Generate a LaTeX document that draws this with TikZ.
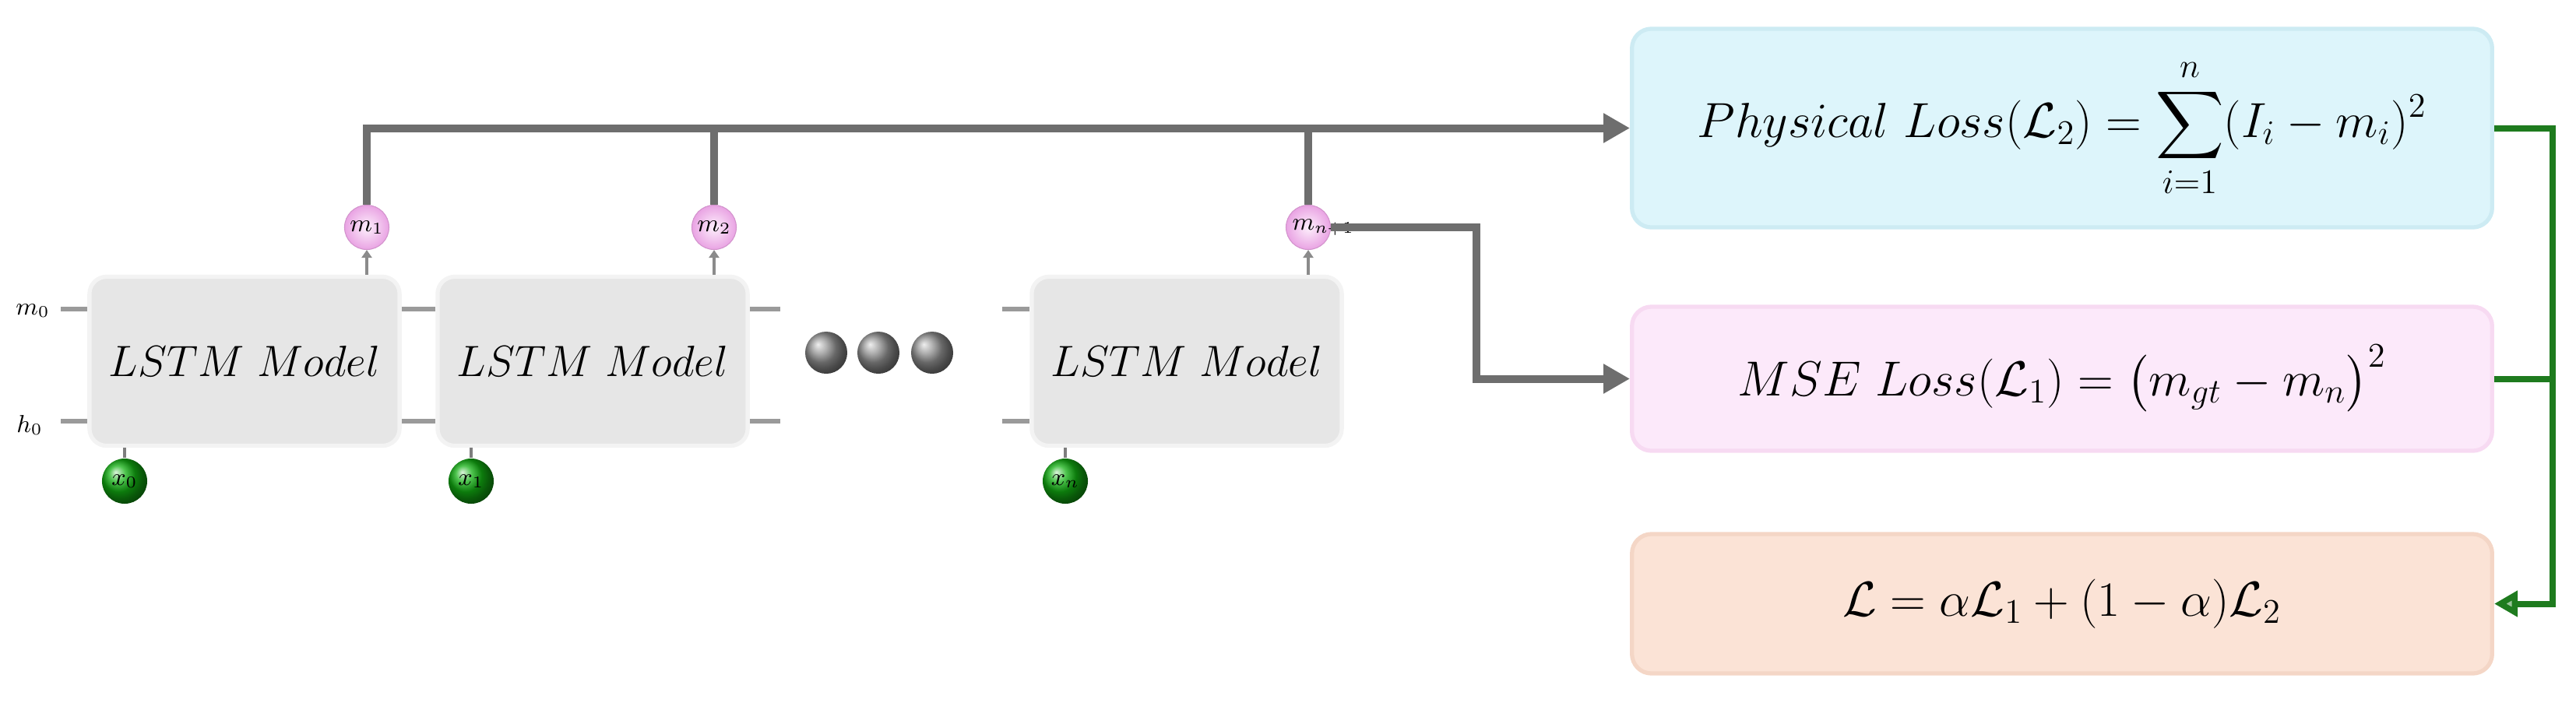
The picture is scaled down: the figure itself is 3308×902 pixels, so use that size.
\RequirePackage{fix-cm}
\documentclass[tikz,border=0pt]{standalone}
\usepackage{amsmath}
\usetikzlibrary{arrows.meta}
\definecolor{boxgray}{HTML}{E6E6E6}
\definecolor{lstmborder}{HTML}{F3F3F3}
\definecolor{busgray}{HTML}{6E6E6E}
\definecolor{stubgray}{HTML}{9A9A9A}
\definecolor{bluefill}{HTML}{DDF5FB}
\definecolor{blueborder}{HTML}{CDEBF3}
\definecolor{pinkfill}{HTML}{FCE9FA}
\definecolor{pinkborder}{HTML}{F7DAF2}
\definecolor{orangefill}{HTML}{FBE3D6}
\definecolor{orangeborder}{HTML}{F4D6C6}
\definecolor{ggreen}{HTML}{1E7B1E}
\definecolor{mpinkin}{HTML}{FDF0FC}
\definecolor{mpinkout}{HTML}{E9A3E3}
\definecolor{xgreen}{HTML}{12B012}
\begin{document}
\begin{tikzpicture}[x=0.01cm,y=-0.01cm,
  lstm/.style={draw=lstmborder, line width=1.5pt, fill=boxgray, rounded corners=0.22cm,
    minimum width=3.98cm, minimum height=2.17cm, font=\fontsize{16}{19}\selectfont},
  mball/.style={circle, inner color=mpinkin, outer color=mpinkout, draw=mpinkout!90!black, line width=0.3pt,
    minimum size=0.57cm, inner sep=0pt, font=\fontsize{9}{10}\selectfont},
  xball/.style={circle, ball color=xgreen, minimum size=0.58cm, inner sep=0pt,
    font=\fontsize{9}{10}\selectfont},
  dotball/.style={circle, ball color=gray!85, minimum size=0.54cm, inner sep=0pt},
  loss/.style={rounded corners=0.25cm, minimum width=11.04cm, line width=1.5pt,
    font=\fontsize{18}{22}\selectfont},
  sidelabel/.style={font=\fontsize{9}{10}\selectfont, inner sep=1pt},
  busline/.style={draw=busgray, line width=0.1cm, line join=miter},
  bus/.style={busline, -{Triangle[length=0.34cm,width=0.36cm]}},
  smallarrow/.style={draw=busgray!80, line width=0.04cm, -{Triangle[length=0.1cm,width=0.13cm]}},
  stub/.style={draw=stubgray, line width=0.06cm},
  xstub/.style={draw=busgray!90, line width=0.045cm},
  gline/.style={draw=ggreen, line width=0.08cm, line join=miter},
  garrow/.style={gline, -{Triangle[length=0.3cm,width=0.32cm,fill=ggreen!45!white]}}
]
\useasboundingbox (0,0) rectangle (3308,902);

% LSTM boxes
\node[lstm] (box1) at (314,464) {$LSTM\ Model$};
\node[lstm] (box2) at (761,464) {$LSTM\ Model$};
\node[lstm] (box3) at (1524,464) {$LSTM\ Model$};

% output balls
\node[mball] (m1) at (471,292) {$m_1$};
\node[mball] (m2) at (917,292) {$m_2$};
\node[mball] (mn) at (1680,292) {};
\node[sidelabel, anchor=west, inner sep=0pt] (mnlab) at ([xshift=0.08cm]mn.west) {$m_{n+1}$};

% input balls
\node[xball] (x0) at (160,618) {$x_0$};
\node[xball] (x1) at (605,618) {$x_1$};
\node[xball] (xn) at (1368,618) {$x_n$};

% dots
\node[dotball] (d1) at (1061,453) {};
\node[dotball] (d2) at (1128,453) {};
\node[dotball] (d3) at (1197,453) {};

% side labels
\node[sidelabel] (m0) at (42,399) {$m_0$};
\node[sidelabel] (h0) at (38,546) {$h_0$};

% loss boxes
\node[loss, fill=bluefill, draw=blueborder, minimum height=2.55cm] (blue) at (2648,164.5)
  {$Physical\ Loss(\mathcal{L}_2)=\displaystyle\sum_{i=1}^{n}(I_i-m_i)^2$};
\node[loss, fill=pinkfill, draw=pinkborder, minimum height=1.85cm] (pink) at (2648,486.5)
  {$MSE\ Loss(\mathcal{L}_1)=\bigl(m_{gt}-m_n\bigr)^2$};
\node[loss, fill=orangefill, draw=orangeborder, minimum height=1.79cm] (orange) at (2648,775.5)
  {$\mathcal{L}=\alpha\mathcal{L}_1+(1-\alpha)\mathcal{L}_2$};

% helper coordinates
\coordinate (sm) at (78,397);
\coordinate (sh) at (78,541);
\coordinate (r2m) at (1002,397);
\coordinate (r2h) at (1002,541);
\coordinate (l3m) at (1287,397);
\coordinate (l3h) at (1287,541);
\coordinate (bendx) at (1896,0);
\coordinate (gx) at (3278,0);

% state stubs
\draw[stub] (sm) -- (sm -| box1.west);
\draw[stub] (sh) -- (sh -| box1.west);
\draw[stub] (box1.east |- sm) -- (box2.west |- sm);
\draw[stub] (box1.east |- sh) -- (box2.west |- sh);
\draw[stub] (box2.east |- r2m) -- (r2m);
\draw[stub] (box2.east |- r2h) -- (r2h);
\draw[stub] (l3m) -- (box3.west |- l3m);
\draw[stub] (l3h) -- (box3.west |- l3h);

% input stubs
\draw[xstub] (x0.north) -- (x0.north |- box1.south);
\draw[xstub] (x1.north) -- (x1.north |- box2.south);
\draw[xstub] (xn.north) -- (xn.north |- box3.south);

% small output arrows
\draw[smallarrow] (m1.south |- box1.north) -- (m1.south);
\draw[smallarrow] (m2.south |- box2.north) -- (m2.south);
\draw[smallarrow] (mn.south |- box3.north) -- (mn.south);

% bus to physical loss
\draw[bus] (m1.north) -- (m1.north |- blue.west) -- (blue.west);
\draw[busline] (m2.north) -- (m2.north |- blue.west);
\draw[busline] (mn.north) -- (mn.north |- blue.west);

% branch to MSE loss
\draw[bus] (mn.east) -- (mn.east -| bendx) |- (pink.west);

% green combination
\draw[garrow] (blue.east) -- (blue.east -| gx) |- (orange.east);
\draw[gline] (pink.east) -- (pink.east -| gx);
\end{tikzpicture}
\end{document}
